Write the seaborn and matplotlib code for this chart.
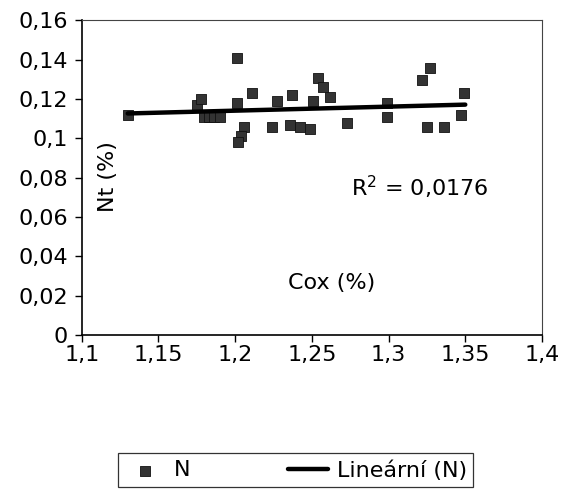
import pandas as pd
import matplotlib
matplotlib.use("Agg")
import matplotlib.pyplot as plt
import seaborn as sns

# -- data --
cox = [1.130, 1.175, 1.178, 1.180, 1.183, 1.186, 1.190, 1.201, 1.201, 1.206,
       1.204, 1.202, 1.211, 1.224, 1.227, 1.237, 1.236, 1.242, 1.249, 1.254,
       1.257, 1.251, 1.262, 1.273, 1.299, 1.299, 1.322, 1.327, 1.325, 1.336,
       1.349, 1.347]
nt = [0.112, 0.117, 0.120, 0.111, 0.111, 0.111, 0.111, 0.141, 0.118, 0.106,
      0.101, 0.098, 0.123, 0.106, 0.119, 0.122, 0.107, 0.106, 0.105, 0.131,
      0.126, 0.119, 0.121, 0.108, 0.118, 0.111, 0.1295, 0.136, 0.106, 0.106,
      0.123, 0.112]
# trend line end points as drawn in the original
trend_x = [1.13, 1.35]
trend_y = [0.1127, 0.1172]
x_ticks = [1.1, 1.15, 1.2, 1.25, 1.3, 1.35, 1.4]
y_ticks = [0, 0.02, 0.04, 0.06, 0.08, 0.1, 0.12, 0.14, 0.16]
r2_text = "R$^2$ = 0,0176"

df = pd.DataFrame({"Cox": cox, "Nt": nt})
trend = pd.DataFrame({"Cox": trend_x, "Nt": trend_y})

sns.set_style("white", {"text.color": "black", "xtick.color": "black",
                        "ytick.color": "black", "axes.labelcolor": "black"})
plt.rcParams["font.family"] = ["DejaVu Sans"]
plt.rcParams["mathtext.default"] = "regular"

fig = plt.figure(figsize=(5.62, 4.95), dpi=100)
ax = fig.add_axes([0.1454, 0.3232, 0.819, 0.6354])

# scatter of measured values
sns.scatterplot(data=df, x="Cox", y="Nt", ax=ax, marker="s", s=50,
                color="#333333", edgecolor="#111111", linewidth=0.6,
                label="N", zorder=3)

# linear trend
sns.lineplot(data=trend, x="Cox", y="Nt", ax=ax, color="black", linewidth=3.2,
             label="Lineární (N)", zorder=4)

ax.set_xlim(1.1, 1.4)
ax.set_ylim(0, 0.16)
ax.set_xticks(x_ticks)
ax.set_yticks(y_ticks)
ax.set_xticklabels([f"{v:g}".replace(".", ",") for v in x_ticks], fontsize=16)
ax.set_yticklabels([f"{v:g}".replace(".", ",") for v in y_ticks], fontsize=16)
ax.tick_params(axis="both", direction="out", length=5, width=1, color="black",
               labelcolor="black", bottom=True, left=True, pad=5)
ax.tick_params(axis="x", pad=2)
ax.set_xlabel("")
ax.set_ylabel("")

for side in ["left", "bottom"]:
    ax.spines[side].set_color("black")
    ax.spines[side].set_linewidth(1.2)
for side in ["top", "right"]:
    ax.spines[side].set_color("#444444")
    ax.spines[side].set_linewidth(0.8)
    ax.spines[side].set_linestyle((0, (6, 1)))

# axis titles sit inside the plot area in the original
ax.text(0.057, 0.505, "Nt (%)", transform=ax.transAxes, rotation=90,
        fontsize=16, ha="center", va="center", color="black")
ax.text(0.544, 0.165, "Cox (%)", transform=ax.transAxes, fontsize=16,
        ha="center", va="center", color="black")
ax.text(0.735, 0.47, r2_text, transform=ax.transAxes, fontsize=16,
        ha="center", va="center", color="black")

handles, labels = ax.get_legend_handles_labels()
ax.legend_.remove()
leg = fig.legend(handles, labels, loc="center", ncol=2,
                 bbox_to_anchor=(0.526, 0.05), fontsize=16, frameon=True,
                 fancybox=False, edgecolor="black", columnspacing=4.4,
                 handlelength=1.8, handletextpad=0.4, borderpad=0.3,
                 labelcolor="black")
leg.get_frame().set_linewidth(0.9)

fig.savefig("out.png", dpi=100)
